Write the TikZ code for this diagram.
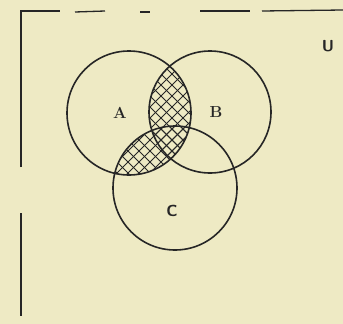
\documentclass[tikz,border=0pt]{standalone}
\begin{document}
\begin{tikzpicture}[x=1pt,y=-1pt,
  circ/.style={line width=1.6pt,draw=black!85},
  frame/.style={line width=1.3pt,draw=black!85},
  hatch/.style={line width=1pt,draw=black!85},
  lbl/.style={font=\bfseries\fontsize{16}{18}\selectfont,text=black!85}]
\definecolor{paper}{HTML}{EEEAC4}
\fill[paper] (0,0) rectangle (343,324);
\useasboundingbox (0,0) rectangle (343,324);
% frame
\draw[frame] (21,167) -- (21,11) -- (60,11);
\draw[frame] (21,213) -- (21,316);
\draw[frame] (75,12) -- (105,11);
\draw[frame] (140,12) -- (150,12);
\draw[frame] (200,11) -- (250,11);
\draw[frame] (262,11) -- (343,10);
% circles
\coordinate (ca) at (129,113);
\coordinate (cb) at (210,112);
\coordinate (cc) at (175,188);
% hatching A and (B or C)
\begin{scope}
  \clip (ca) circle (62);
  \clip (cb) circle (61);
  \foreach \i in {-330,-319,...,330} {
    \draw[hatch] (150+\i,30) -- +(220,220);
    \draw[hatch] (150+\i,250) -- +(220,-220);
  }
\end{scope}
\begin{scope}
  \clip (ca) circle (62);
  \clip (cc) circle (62);
  \foreach \i in {-330,-319,...,330} {
    \draw[hatch] (150+\i,30) -- +(220,220);
    \draw[hatch] (150+\i,250) -- +(220,-220);
  }
\end{scope}
\draw[circ] (ca) circle (62);
\draw[circ] (cb) circle (61);
\draw[circ] (cc) circle (62);
\node[lbl] (la) at (120,113) {A};
\node[lbl] (lb) at (216,112) {B};
\node[lbl,font=\bfseries\sffamily\fontsize{16}{18}\selectfont] (lc) at (172,211) {C};
\node[lbl,font=\bfseries\sffamily\fontsize{16}{18}\selectfont] (u) at (328,46) {U};
\end{tikzpicture}
\end{document}
